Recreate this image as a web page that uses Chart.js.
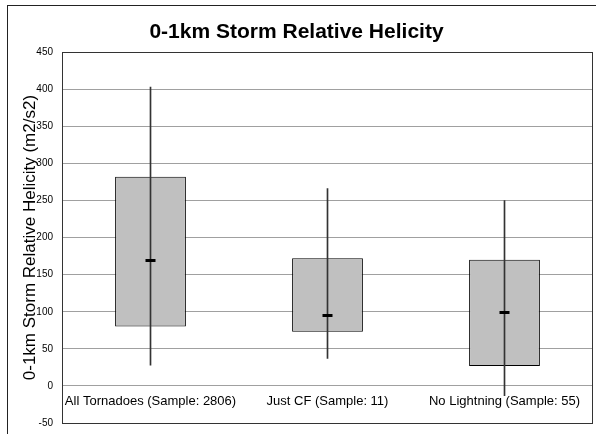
<!DOCTYPE html>
<html>
<head>
<meta charset="utf-8">
<script src="https://cdn.jsdelivr.net/npm/chart.js@4/dist/chart.umd.min.js"></script>
<style>
  body { margin: 0; background: #fff; overflow: hidden; }
  #frame { position: absolute; left: 7px; top: 5px; width: 600px; height: 440px; border: 1px solid #222; }
  #wrap { position: absolute; left: 0; top: 0; width: 596px; height: 434px; overflow: hidden; }
</style>
</head>
<body>
<div id="frame"></div>
<div id="wrap"><canvas id="srhChart" width="596" height="438"></canvas></div>
<script>
// data
const categories = ['All Tornadoes (Sample: 2806)', 'Just CF (Sample: 11)', 'No Lightning (Sample: 55)'];
const boxLow = [80, 73, 27];
const boxHigh = [282, 172, 170];
const whiskerLow = [28, 37, -13];
const whiskerHigh = [403, 266, 250];
const medians = [169, 95, 99];
const yTicks = [-50, 0, 50, 100, 150, 200, 250, 300, 350, 400, 450];

const boxes = categories.map((c, i) => [boxLow[i], boxHigh[i]]);
const whiskers = categories.map((c, i) => [whiskerLow[i], whiskerHigh[i]]);

// plot area outline
const areaBorder = {
    id: 'areaBorder',
    afterDraw(chart) {
        const a = chart.chartArea;
        const ctx = chart.ctx;
        ctx.save();
        ctx.strokeStyle = '#333';
        ctx.lineWidth = 1;
        ctx.strokeRect(Math.round(a.left) + 0.5, Math.round(a.top) + 0.5,
            Math.round(a.right - a.left) - 1, Math.round(a.bottom - a.top));
        ctx.restore();
    }
};

const ctx = document.getElementById('srhChart').getContext('2d');
new Chart(ctx, {
    type: 'bar',
    data: {
        labels: categories,
        datasets: [
            {
                label: 'box',
                data: boxes,
                backgroundColor: '#c0c0c0',
                borderColor: '#000',
                borderWidth: 1,
                borderSkipped: false,
                categoryPercentage: 1,
                barPercentage: 0.4,
                grouped: false,
                order: 3
            },
            {
                label: 'range',
                data: whiskers,
                backgroundColor: '#333',
                borderWidth: 0,
                barThickness: 1,
                grouped: false,
                order: 2
            },
            {
                type: 'line',
                label: 'median',
                data: medians,
                showLine: false,
                pointStyle: 'line',
                pointRadius: 5,
                pointBorderWidth: 3,
                borderColor: '#000',
                order: 1
            }
        ]
    },
    options: {
        responsive: false,
        animation: false,
        layout: { autoPadding: false, padding: { left: 0, right: 3, top: 0, bottom: 15 } },
        plugins: {
            legend: { display: false },
            tooltip: { enabled: false },
            title: {
                display: true,
                text: '0-1km Storm Relative Helicity',
                color: '#000',
                font: { family: 'Liberation Sans, Arial', size: 21, weight: 'bold' },
                padding: { top: 20, bottom: 7 }
            }
        },
        scales: {
            x: {
                position: { y: 0 },
                grid: { display: false, drawTicks: false },
                border: { display: false },
                ticks: {
                    color: '#000',
                    font: { family: 'Liberation Sans, Arial', size: 13 },
                    padding: 8,
                    maxRotation: 0,
                    autoSkip: false
                }
            },
            y: {
                min: -50,
                max: 450,
                afterBuildTicks(scale) {
                    scale.ticks = yTicks.map(v => ({ value: v }));
                },
                afterFit(scale) {
                    scale.width = 62;
                },
                grid: { color: '#a0a0a0', lineWidth: 1, drawTicks: false },
                border: { display: true, color: '#333' },
                ticks: {
                    color: '#000',
                    font: { family: 'Liberation Sans, Arial', size: 10 },
                    padding: 9
                },
                title: {
                    display: true,
                    text: '0-1km Storm Relative Helicity (m2/s2)',
                    color: '#000',
                    font: { family: 'Liberation Sans, Arial', size: 17 },
                    padding: { top: 20, bottom: 0 }
                }
            }
        }
    },
    plugins: [areaBorder]
});
</script>
</body>
</html>
